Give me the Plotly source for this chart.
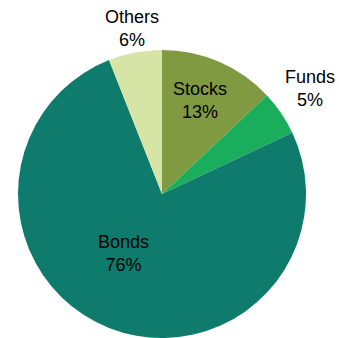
import plotly.graph_objects as go

labels = ["Stocks", "Funds", "Bonds", "Others"]
values = [13, 5, 76, 6]
colors = ["#7f9a40", "#1aae5c", "#0e7b6d", "#d6e4a6"]
# label anchor points (paper coordinates) for each slice label
label_x = [0.632, 1.014, 0.365, 0.396]
label_y = [0.823, 0.865, 0.295, 1.073]

total = sum(values)

fig = go.Figure(go.Pie(
    labels=labels,
    values=values,
    sort=False,
    direction="clockwise",
    rotation=0,
    marker=dict(colors=colors, line=dict(width=0)),
    textinfo="none",
    hoverinfo="label+percent",
    showlegend=False,
))

for lab, val, ax, ay in zip(labels, values, label_x, label_y):
    fig.add_annotation(
        x=ax, y=ay, xref="paper", yref="paper",
        xanchor="center", yanchor="middle",
        text=f"{lab}<br>{round(100 * val / total)}%",
        showarrow=False,
        font=dict(family="Liberation Sans, Arial, sans-serif", size=18, color="#000000"),
    )

fig.update_layout(
    width=339,
    height=338,
    margin=dict(l=18, r=33, t=50, b=0),
    paper_bgcolor="#ffffff",
    plot_bgcolor="#ffffff",
)

fig.write_html("out.html")
